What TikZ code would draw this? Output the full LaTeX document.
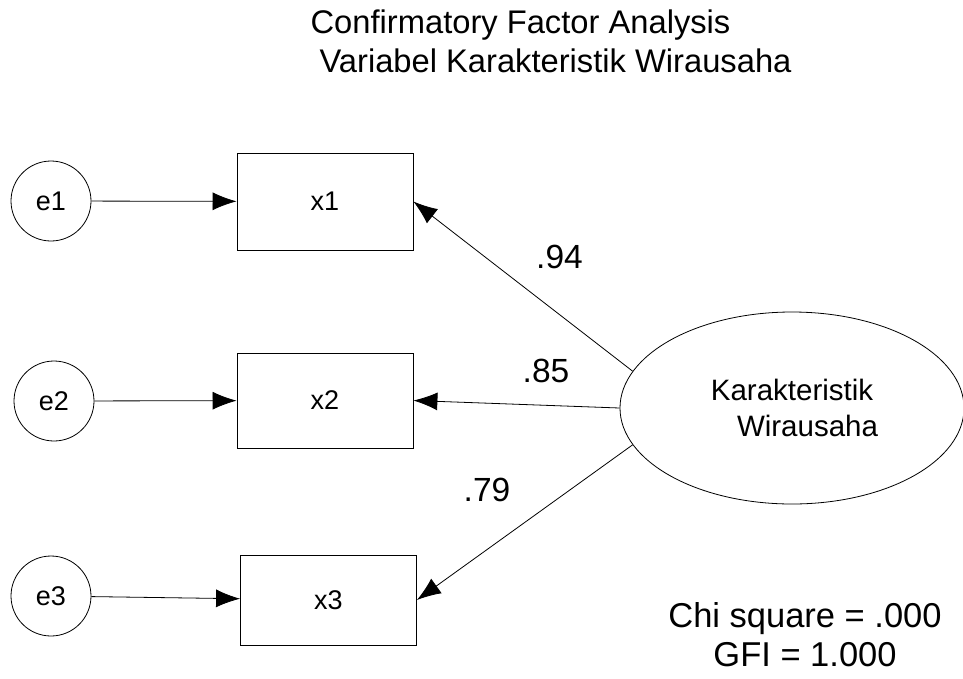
\documentclass[tikz,border=0pt]{standalone}
\usepackage{fontspec}
\setmainfont{Liberation Sans}
\usetikzlibrary{arrows.meta}
\usetikzlibrary{shapes.geometric}

\begin{document}
\begin{tikzpicture}[x=1pt,y=-1pt,line width=0.8pt,
    err/.style={draw,circle,minimum size=80pt,inner sep=0pt,font=\fontsize{27}{32}\selectfont},
    obs/.style={draw,rectangle,minimum width=176pt,inner sep=0pt,font=\fontsize{27}{32}\selectfont},
    latent/.style={draw,ellipse,minimum width=344pt,minimum height=192pt,inner sep=0pt,align=center,font=\fontsize{29.5}{36}\selectfont},
    path/.style={-{Latex[length=24pt,width=18pt]}},
    coef/.style={font=\fontsize{33.5}{40}\selectfont},
    heading/.style={anchor=base,font=\fontsize{32.7}{38}\selectfont},
    fitline/.style={anchor=base,font=\fontsize{34.5}{40}\selectfont}]
        \useasboundingbox (0,0) rectangle (963,678);
        \node[heading] (title1) at (520.5,33) {Confirmatory Factor Analysis};
        \node[heading] (title2) at (555.5,72) {Variabel Karakteristik Wirausaha};
        \foreach \i/\ex/\ey/\ox/\oy/\h in {1/51/201/325/201.5/97,2/54/401/325/400.5/95,3/51/596/328.5/600/90}{
            \node[err] (e\i) at (\ex,\ey) {e\i};
            \node[obs,minimum height=\h pt] (x\i) at (\ox,\oy) {x\i};
            \draw[path] (e\i) -- (x\i);
        }
        \node[latent] (F) at (792,408) {Karakteristik\\\hspace*{31pt}Wirausaha};
        \draw[path] (F.167) -- (x1.east);
        \draw[path] (F.west) -- (x2.east);
        \draw[path] (F.193) -- (x3.east);
        \node[coef] (l1) at (559.5,256.5) {.94};
        \node[coef] (l2) at (546,371) {.85};
        \node[coef] (l3) at (487,490) {.79};
        \node[fitline] (chi) at (805,627) {Chi square = .000};
        \node[fitline] (gfi) at (805,666) {GFI = 1.000};
    \end{tikzpicture}
\end{document}
